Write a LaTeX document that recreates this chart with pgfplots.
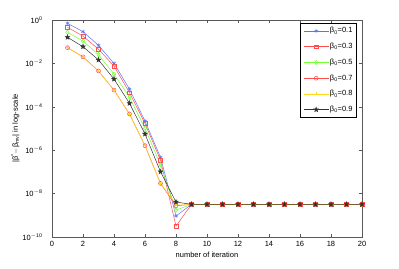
\documentclass[border=0pt]{standalone}
\usepackage{pgfplots}
\pgfplotsset{compat=1.18}
\usepackage{fontspec}
\setmainfont{Liberation Sans}
\definecolor{cb}{rgb}{0.35,0.45,1}
\definecolor{cr}{rgb}{1,0.3,0.3}
\definecolor{cg}{rgb}{0.45,1,0.2}
\definecolor{cy}{rgb}{1,0.85,0.1}
\definecolor{ck}{rgb}{0.2,0.2,0.2}
\pgfdeclareplotmark{pentagram}{%
  \pgfpathmoveto{\pgfpointpolar{90}{\pgfplotmarksize}}%
  \pgfpathlineto{\pgfpointpolar{126}{0.42*\pgfplotmarksize}}%
  \pgfpathlineto{\pgfpointpolar{162}{\pgfplotmarksize}}%
  \pgfpathlineto{\pgfpointpolar{198}{0.42*\pgfplotmarksize}}%
  \pgfpathlineto{\pgfpointpolar{234}{\pgfplotmarksize}}%
  \pgfpathlineto{\pgfpointpolar{270}{0.42*\pgfplotmarksize}}%
  \pgfpathlineto{\pgfpointpolar{306}{\pgfplotmarksize}}%
  \pgfpathlineto{\pgfpointpolar{342}{0.42*\pgfplotmarksize}}%
  \pgfpathlineto{\pgfpointpolar{18}{\pgfplotmarksize}}%
  \pgfpathlineto{\pgfpointpolar{54}{0.42*\pgfplotmarksize}}%
  \pgfpathclose
  \pgfusepathqfillstroke}
\begin{document}
\begin{tikzpicture}[x=1pt,y=1pt]
\useasboundingbox (0,0) rectangle (399,268);
\begin{axis}[
  at={(52pt,31pt)}, anchor=south west,
  scale only axis, width=310pt, height=217pt,
  ymode=log, xmin=0, xmax=20, ymin=1e-10, ymax=1,
  xtick={0,2,...,20},
  ytick={1,1e-2,1e-4,1e-6,1e-8,1e-10},
  yticklabels={10\textsuperscript{0},10\textsuperscript{$-$2},10\textsuperscript{$-$4},10\textsuperscript{$-$6},10\textsuperscript{$-$8},10\textsuperscript{$-$10}},
  /pgf/number format/assume math mode=true,
  tick align=inside, tick pos=both,
  major tick length=3pt,
  minor tick num=0,
  every tick/.style={gray!70!black, line width=0.4pt},
  axis line style={gray!70!black, line width=0.6pt},
  tick label style={font=\fontsize{7.5}{8}\selectfont},
  yticklabel style={xshift=-6pt},
  xticklabel style={yshift=-1pt},
  label style={font=\fontsize{7.5}{8}\selectfont},
  xlabel={number of iteration},
  xlabel style={yshift=2pt},
  ylabel={|β\textsuperscript{*}$-$β\textsubscript{mv}| in log-scale},
  ylabel style={yshift=-4pt},
  legend style={at={(0.983,0.985)}, anchor=north east, draw=black, line width=0.5pt,
    font=\fontsize{7.5}{8}\selectfont, row sep=6.8pt, inner sep=3pt,
    nodes={inner sep=1pt}},
  legend image code/.code={%
    \draw[mark repeat=2,mark phase=2] plot coordinates {(0pt,0pt) (12.5pt,0pt) (25pt,0pt)};},
  legend cell align=left,
  every axis plot/.append style={line width=0.5pt},
  mark size=2pt,
]
\addplot[cb, mark=asterisk, mark size=2pt] coordinates {
(1,0.70)(2,0.29)(3,0.068)(4,0.0100)(5,6.5e-4)(6,2.2e-5)(7,4.7e-7)(8,9.3e-10)
(9,3.2e-9)(10,3.2e-9)(11,3.2e-9)(12,3.2e-9)(13,3.2e-9)(14,3.2e-9)(15,3.2e-9)
(16,3.2e-9)(17,3.2e-9)(18,3.2e-9)(19,3.2e-9)(20,3.2e-9)};
\addlegendentry{β\textsubscript{0}=0.1}
\addplot[cr, mark=square, mark size=1.8pt] coordinates {
(1,0.46)(2,0.18)(3,0.045)(4,0.0075)(5,4.5e-4)(6,1.7e-5)(7,3.5e-7)(8,3.2e-10)
(9,3.2e-9)(10,3.2e-9)(11,3.2e-9)(12,3.2e-9)(13,3.2e-9)(14,3.2e-9)(15,3.2e-9)
(16,3.2e-9)(17,3.2e-9)(18,3.2e-9)(19,3.2e-9)(20,3.2e-9)};
\addlegendentry{β\textsubscript{0}=0.3}
\addplot[cg, mark=diamond, mark size=2.2pt] coordinates {
(1,0.27)(2,0.107)(3,0.025)(4,0.0032)(5,2.75e-4)(6,1.02e-5)(7,2.1e-7)(8,1.74e-9)
(9,3.2e-9)(10,3.2e-9)(11,3.2e-9)(12,3.2e-9)(13,3.2e-9)(14,3.2e-9)(15,3.2e-9)
(16,3.2e-9)(17,3.2e-9)(18,3.2e-9)(19,3.2e-9)(20,3.2e-9)};
\addlegendentry{β\textsubscript{0}=0.5}
\addplot[cr, mark=o, mark size=2pt] coordinates {
(1,0.053)(2,0.02)(3,0.0045)(4,5.9e-4)(5,4.7e-5)(6,1.62e-6)(7,2.95e-8)(8,2.75e-9)
(9,3.2e-9)(10,3.2e-9)(11,3.2e-9)(12,3.2e-9)(13,3.2e-9)(14,3.2e-9)(15,3.2e-9)
(16,3.2e-9)(17,3.2e-9)(18,3.2e-9)(19,3.2e-9)(20,3.2e-9)};
\addlegendentry{β\textsubscript{0}=0.7}
\addplot[cy, mark=+, mark size=1.5pt] coordinates {
(1,0.053)(2,0.02)(3,0.0045)(4,5.9e-4)(5,4.7e-5)(6,1.62e-6)(7,2.95e-8)(8,3.3e-9)
(9,3.2e-9)(10,3.2e-9)(11,3.2e-9)(12,3.2e-9)(13,3.2e-9)(14,3.2e-9)(15,3.2e-9)
(16,3.2e-9)(17,3.2e-9)(18,3.2e-9)(19,3.2e-9)(20,3.2e-9)};
\addlegendentry{β\textsubscript{0}=0.8}
\addplot[ck, mark=pentagram, mark size=2.4pt] coordinates {
(1,0.16)(2,0.059)(3,0.0145)(4,0.0019)(5,1.45e-4)(6,5.6e-6)(7,1.02e-7)(8,4.1e-9)
(9,3.2e-9)(10,3.2e-9)(11,3.2e-9)(12,3.2e-9)(13,3.2e-9)(14,3.2e-9)(15,3.2e-9)
(16,3.2e-9)(17,3.2e-9)(18,3.2e-9)(19,3.2e-9)(20,3.2e-9)};
\addlegendentry{β\textsubscript{0}=0.9}
\end{axis}
\end{tikzpicture}
\end{document}
